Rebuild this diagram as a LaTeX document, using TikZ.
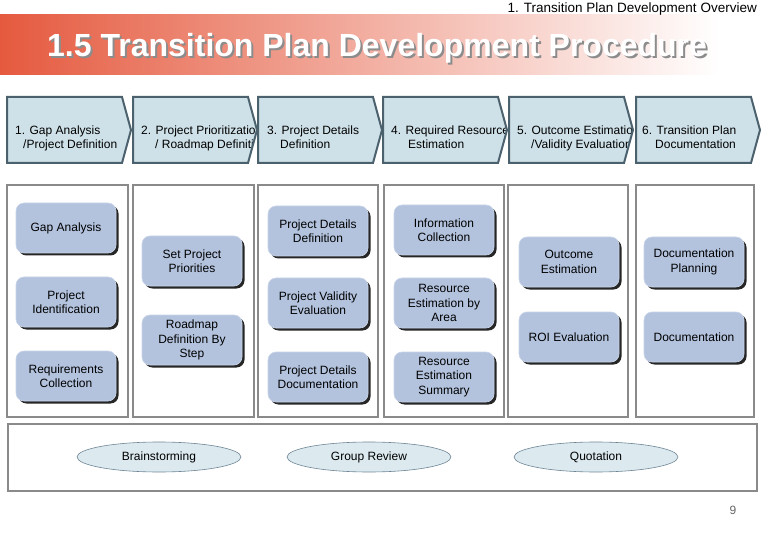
\documentclass[tikz,border=0pt]{standalone}
\usepackage{fontspec}
\setmainfont{Liberation Sans}
\usetikzlibrary{shadows,shapes.geometric}
\definecolor{hdr}{HTML}{E55A3F}
\definecolor{chevfill}{HTML}{CFE1E8}
\definecolor{chevline}{HTML}{4B616D}
\definecolor{boxfill}{HTML}{B3C3DE}
\definecolor{boxedge}{HTML}{C9D5E8}
\definecolor{ellfill}{HTML}{DCEAF0}
\definecolor{ellline}{HTML}{6F8595}
\definecolor{panelline}{HTML}{8A8A8A}
\newcommand\mychev[7]{%
  \begin{scope}
    \fill[chevfill] (#1,97) -- ({#1+115},97) -- ({#1+124},130) -- ({#1+115},163) -- (#1,163) -- cycle;
    \clip (#1,97) -- ({#1+115},97) -- ({#1+124},130) -- ({#1+115},163) -- (#1,163) -- cycle;
    \node[chevtext] (#2a) at (#3,135) {#4};
    \node[chevtext] (#2b) at (#5,149) {#6};
  \end{scope}
  \draw[chevline, line width=2pt, line join=miter] (#1,97) -- ({#1+115},97) -- ({#1+124},130) -- ({#1+115},163) -- (#1,163) -- cycle;
}
\begin{document}
\begin{tikzpicture}[x=1pt,y=-1pt,
  txt/.style={font=\fontsize{12}{14.5}\selectfont},
  chevtext/.style={txt, anchor=base west, inner sep=0pt},
  panel/.style={draw=panelline, line width=1.1pt},
  pbox/.style={txt, rounded corners=8pt, fill=boxfill, draw=boxedge, line width=0.6pt,
    minimum width=100pt, minimum height=50pt, align=center, inner sep=2pt,
    drop shadow={shadow xshift=2.5pt, shadow yshift=-2.5pt, fill=black!85, opacity=1}},
  ell/.style={txt, ellipse, draw=ellline, line width=0.6pt, fill=ellfill, minimum width=164pt, minimum height=30pt, inner sep=0pt}]
\useasboundingbox (0,0) rectangle (766,540);
\fill[white] (0,0) rectangle (766,540);
% header band
\shade[left color=hdr, right color=white] (0,15) rectangle (720,75);
\node[anchor=base west, inner sep=0pt, font=\fontsize{32}{32}\selectfont\bfseries, text=black!45] (titleshadow) at (49,59) {1.5 Transition Plan Development Procedure};
\node[anchor=base west, inner sep=0pt, font=\fontsize{32}{32}\selectfont\bfseries, text=white] (title) at (47,57) {1.5 Transition Plan Development Procedure};
\node[anchor=base east, inner sep=0pt, font=\fontsize{13.5}{14}\selectfont] (sub) at (757,13) {1. Transition Plan Development Overview};
% chevrons
\mychev{7}{c1}{15}{1. Gap Analysis}{23}{/Project Definition}{}
\mychev{133}{c2}{141}{2. Project Prioritization}{155}{/ Roadmap Definition}{}
\mychev{258}{c3}{267}{3. Project Details}{280}{Definition}{}
\mychev{383}{c4}{391}{4. Required Resource}{408}{Estimation}{}
\mychev{509}{c5}{517}{5. Outcome Estimation}{531}{/Validity Evaluation}{}
\mychev{636}{c6}{642}{6. Transition Plan}{655}{Documentation}{}
% column panels
\draw[panel] (7,185) rectangle (128,417);
\draw[panel] (133,185) rectangle (254,417);
\draw[panel] (258,185) rectangle (378,417);
\draw[panel] (384,185) rectangle (504,417);
\draw[panel] (508,185) rectangle (628,417);
\draw[panel] (636,185) rectangle (754,417);
% boxes
\node[pbox] (gap) at (66,228) {Gap Analysis};
\node[pbox] (pid) at (66,302) {Project\\Identification};
\node[pbox] (req) at (66,376) {Requirements\\Collection};
\node[pbox] (spp) at (192,261) {Set Project\\Priorities};
\node[pbox] (rdm) at (192,340) {Roadmap\\Definition By\\Step};
\node[pbox] (pdd) at (318,231) {Project Details\\Definition};
\node[pbox] (pve) at (318,303) {Project Validity\\Evaluation};
\node[pbox] (pdc) at (318,377) {Project Details\\Documentation};
\node[pbox] (inf) at (444,230) {Information\\Collection};
\node[pbox] (rea) at (444,303) {Resource\\Estimation by\\Area};
\node[pbox] (res) at (444,377) {Resource\\Estimation\\Summary};
\node[pbox] (oe) at (569,262) {Outcome\\Estimation};
\node[pbox] (roi) at (569,337) {ROI Evaluation};
\node[pbox] (dp) at (694,262) {Documentation\\Planning};
\node[pbox] (doc) at (694,337) {Documentation};
% bottom panel
\draw[panel] (8,424) rectangle (757,491);
\node[ell] (brain) at (159,457) {Brainstorming};
\node[ell] (grp) at (369,457) {Group Review};
\node[ell] (quo) at (596,457) {Quotation};
\node[anchor=base, inner sep=0pt, txt, text=black!60] (pg) at (733,514) {9};
\end{tikzpicture}
\end{document}
